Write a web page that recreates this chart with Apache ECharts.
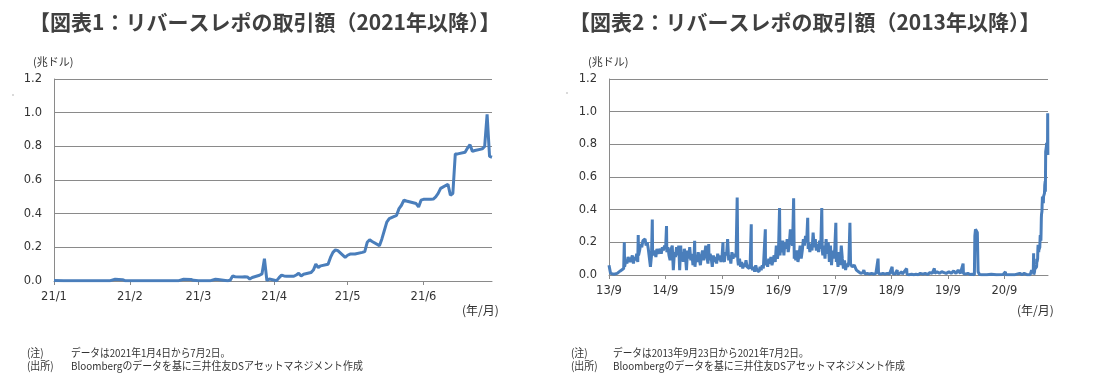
<!DOCTYPE html>
<html><head><meta charset="utf-8">
<script src="https://cdn.jsdelivr.net/npm/echarts@6/dist/echarts.min.js"></script>
<style>html,body{margin:0;padding:0;background:#fff;}#c{width:1099px;height:381px;}</style>
</head><body><div id="c"></div>
<script>
// ---- Chart 1 data: reverse repo volume 2021 (trillion USD) ----
const rrp2021 = [
 ['2021-01-04',0.003],['2021-01-08',0.002],['2021-01-15',0.002],['2021-01-22',0.001],['2021-01-27',0.002],
 ['2021-01-29',0.010],['2021-02-01',0.008],['2021-02-02',0.002],['2021-02-10',0.001],['2021-02-19',0.001],
 ['2021-02-24',0.002],['2021-02-26',0.010],['2021-03-01',0.009],['2021-03-02',0.004],['2021-03-04',0.001],
 ['2021-03-09',0.002],['2021-03-11',0.010],['2021-03-12',0.009],['2021-03-15',0.003],['2021-03-16',0.001],
 ['2021-03-17',0.004],['2021-03-18',0.030],['2021-03-19',0.025],['2021-03-22',0.024],['2021-03-23',0.025],
 ['2021-03-24',0.024],['2021-03-25',0.012],['2021-03-26',0.021],['2021-03-29',0.034],['2021-03-30',0.042],
 ['2021-03-31',0.133],['2021-04-01',0.003],['2021-04-02',0.012],['2021-04-05',0.002],['2021-04-06',0.020],
 ['2021-04-07',0.035],['2021-04-08',0.030],['2021-04-09',0.028],['2021-04-12',0.028],['2021-04-13',0.036],
 ['2021-04-14',0.046],['2021-04-15',0.030],['2021-04-16',0.040],['2021-04-19',0.050],['2021-04-20',0.065],
 ['2021-04-21',0.100],['2021-04-22',0.080],['2021-04-23',0.090],['2021-04-26',0.100],['2021-04-27',0.140],
 ['2021-04-28',0.170],['2021-04-29',0.185],['2021-04-30',0.180],['2021-05-03',0.140],['2021-05-04',0.153],
 ['2021-05-05',0.160],['2021-05-06',0.160],['2021-05-07',0.160],['2021-05-10',0.170],['2021-05-11',0.175],
 ['2021-05-12',0.230],['2021-05-13',0.245],['2021-05-14',0.235],['2021-05-17',0.210],['2021-05-18',0.250],
 ['2021-05-19',0.300],['2021-05-20',0.350],['2021-05-21',0.370],['2021-05-24',0.390],['2021-05-25',0.430],
 ['2021-05-26',0.450],['2021-05-27',0.480],['2021-05-28',0.475],['2021-06-01',0.460],['2021-06-02',0.440],
 ['2021-06-03',0.480],['2021-06-04',0.485],['2021-06-07',0.485],['2021-06-08',0.487],['2021-06-09',0.500],
 ['2021-06-10',0.520],['2021-06-11',0.550],['2021-06-14',0.575],['2021-06-15',0.510],['2021-06-16',0.520],
 ['2021-06-17',0.755],['2021-06-18',0.755],['2021-06-21',0.765],['2021-06-22',0.790],['2021-06-23',0.810],
 ['2021-06-24',0.770],['2021-06-25',0.775],['2021-06-28',0.785],['2021-06-29',0.800],['2021-06-30',0.990],
 ['2021-07-01',0.740],['2021-07-02',0.735]
];
const tickDates1 = ['2021-01-04','2021-02-04','2021-03-04','2021-04-04','2021-05-04','2021-06-04'];
const tickLabels1 = ['21/1','21/2','21/3','21/4','21/5','21/6'];

// ---- Chart 2 data: reverse repo volume since 2013 (trillion USD) ----
const rrp2013 = [
 ['2013-09-23',0.060],['2013-09-26',0.050],['2013-09-30',0.065],['2013-10-03',0.010],['2013-10-15',0.020],
 ['2013-10-25',0.005],['2013-11-05',0.015],['2013-11-15',0.010],['2013-11-26',0.020],['2013-12-05',0.025],
 ['2013-12-16',0.030],['2013-12-27',0.040],['2013-12-31',0.200]
];
const rrp2014 = [
 ['2014-01-02',0.05],['2014-01-10',0.09],['2014-01-17',0.07],['2014-01-24',0.11],['2014-01-31',0.12],
 ['2014-02-07',0.08],['2014-02-14',0.10],['2014-02-21',0.12],['2014-02-28',0.07],['2014-03-07',0.11],
 ['2014-03-14',0.09],['2014-03-21',0.13],['2014-03-28',0.08],['2014-03-31',0.245],['2014-04-02',0.12],
 ['2014-04-09',0.15],['2014-04-16',0.19],['2014-04-23',0.17],['2014-04-30',0.21],['2014-05-07',0.20],
 ['2014-05-14',0.22],['2014-05-21',0.18],['2014-05-28',0.20],['2014-06-04',0.16],['2014-06-11',0.15],
 ['2014-06-18',0.05],['2014-06-25',0.12],['2014-06-30',0.34],['2014-07-02',0.14],['2014-07-09',0.12],
 ['2014-07-16',0.15],['2014-07-23',0.11],['2014-07-30',0.16],['2014-08-06',0.13],['2014-08-13',0.14],
 ['2014-08-20',0.16],['2014-08-27',0.13],['2014-09-03',0.17],['2014-09-10',0.15],['2014-09-17',0.18],
 ['2014-09-24',0.16],['2014-09-30',0.30],['2014-10-02',0.14],['2014-10-09',0.17],['2014-10-16',0.12],
 ['2014-10-23',0.09],['2014-10-30',0.16],['2014-11-06',0.18],['2014-11-13',0.03],['2014-11-20',0.14],
 ['2014-11-27',0.11],['2014-12-04',0.17],['2014-12-11',0.12],['2014-12-18',0.18],['2014-12-24',0.03],
 ['2014-12-31',0.18]
];
const rrp2015 = [
 ['2015-01-02',0.10],['2015-01-09',0.14],['2015-01-16',0.08],['2015-01-23',0.16],['2015-01-30',0.12],
 ['2015-02-06',0.03],['2015-02-13',0.15],['2015-02-20',0.10],['2015-02-27',0.17],['2015-03-06',0.09],
 ['2015-03-13',0.13],['2015-03-20',0.06],['2015-03-27',0.11],['2015-03-31',0.21],['2015-04-02',0.05],
 ['2015-04-09',0.12],['2015-04-16',0.08],['2015-04-23',0.14],['2015-04-30',0.10],['2015-05-07',0.06],
 ['2015-05-14',0.12],['2015-05-21',0.15],['2015-05-28',0.09],['2015-06-04',0.13],['2015-06-11',0.18],
 ['2015-06-18',0.11],['2015-06-25',0.07],['2015-06-30',0.19],['2015-07-02',0.09],['2015-07-09',0.13],
 ['2015-07-16',0.10],['2015-07-23',0.05],['2015-07-30',0.12],['2015-08-06',0.08],['2015-08-13',0.11],
 ['2015-08-20',0.07],['2015-08-27',0.13],['2015-09-03',0.09],['2015-09-10',0.12],['2015-09-17',0.08],
 ['2015-09-24',0.11],['2015-09-30',0.20],['2015-10-02',0.10],['2015-10-09',0.08],['2015-10-16',0.14],
 ['2015-10-23',0.12],['2015-10-30',0.22],['2015-11-06',0.09],['2015-11-13',0.12],['2015-11-20',0.07],
 ['2015-11-27',0.14],['2015-12-04',0.10],['2015-12-11',0.13],['2015-12-18',0.11],['2015-12-24',0.13],
 ['2015-12-31',0.475]
];
const rrp2016 = [
 ['2016-01-04',0.09],['2016-01-08',0.06],['2016-01-15',0.10],['2016-01-22',0.05],['2016-01-29',0.08],
 ['2016-02-05',0.04],['2016-02-12',0.07],['2016-02-19',0.05],['2016-02-26',0.09],['2016-03-04',0.05],
 ['2016-03-11',0.06],['2016-03-18',0.04],['2016-03-24',0.07],['2016-03-31',0.31],['2016-04-01',0.06],
 ['2016-04-08',0.03],['2016-04-15',0.05],['2016-04-22',0.02],['2016-04-29',0.06],['2016-05-06',0.03],
 ['2016-05-13',0.04],['2016-05-20',0.02],['2016-05-27',0.05],['2016-06-03',0.03],['2016-06-10',0.06],
 ['2016-06-17',0.04],['2016-06-24',0.05],['2016-06-30',0.28],['2016-07-01',0.06],['2016-07-08',0.09],
 ['2016-07-15',0.05],['2016-07-22',0.10],['2016-07-29',0.07],['2016-08-05',0.11],['2016-08-12',0.06],
 ['2016-08-19',0.09],['2016-08-26',0.12],['2016-09-02',0.08],['2016-09-09',0.18],['2016-09-16',0.10],
 ['2016-09-23',0.14],['2016-09-30',0.41],['2016-10-03',0.12],['2016-10-07',0.18],['2016-10-14',0.14],
 ['2016-10-21',0.21],['2016-10-28',0.12],['2016-11-04',0.20],['2016-11-11',0.16],['2016-11-18',0.22],
 ['2016-11-25',0.14],['2016-12-02',0.19],['2016-12-09',0.28],['2016-12-16',0.21],['2016-12-23',0.18],
 ['2016-12-30',0.47]
];
const rrp2017 = [
 ['2017-01-03',0.10],['2017-01-06',0.14],['2017-01-13',0.09],['2017-01-20',0.15],['2017-01-27',0.08],
 ['2017-02-03',0.12],['2017-02-10',0.18],['2017-02-17',0.10],['2017-02-24',0.15],['2017-03-03',0.22],
 ['2017-03-10',0.18],['2017-03-17',0.24],['2017-03-24',0.20],['2017-03-31',0.35],['2017-04-03',0.16],
 ['2017-04-07',0.20],['2017-04-14',0.14],['2017-04-21',0.19],['2017-04-28',0.15],['2017-05-05',0.26],
 ['2017-05-12',0.17],['2017-05-19',0.22],['2017-05-26',0.15],['2017-06-02',0.19],['2017-06-09',0.14],
 ['2017-06-16',0.21],['2017-06-23',0.16],['2017-06-30',0.41],['2017-07-03',0.15],['2017-07-07',0.12],
 ['2017-07-14',0.18],['2017-07-21',0.10],['2017-07-28',0.22],['2017-08-04',0.13],['2017-08-11',0.20],
 ['2017-08-18',0.08],['2017-08-25',0.18],['2017-09-01',0.06],['2017-09-08',0.15],['2017-09-15',0.10],
 ['2017-09-22',0.16],['2017-09-29',0.32],['2017-10-02',0.08],['2017-10-06',0.12],['2017-10-13',0.05],
 ['2017-10-20',0.14],['2017-10-27',0.06],['2017-11-03',0.18],['2017-11-10',0.10],['2017-11-17',0.04],
 ['2017-11-24',0.09],['2017-12-01',0.03],['2017-12-08',0.07],['2017-12-15',0.05],['2017-12-22',0.08],
 ['2017-12-29',0.32]
];
const rrp2018 = [
 ['2018-01-02',0.07],['2018-01-12',0.05],['2018-01-26',0.06],['2018-02-09',0.03],['2018-02-23',0.02],
 ['2018-03-09',0.01],['2018-03-23',0.015],['2018-03-29',0.03],['2018-04-06',0.005],['2018-04-20',0.01],
 ['2018-05-04',0.005],['2018-05-18',0.01],['2018-06-01',0.005],['2018-06-15',0.01],['2018-06-29',0.10],
 ['2018-07-02',0.01],['2018-07-16',0.005],['2018-07-30',0.01],['2018-08-13',0.005],['2018-08-27',0.01],
 ['2018-09-10',0.005],['2018-09-28',0.05],['2018-10-01',0.01],['2018-10-15',0.005],['2018-10-31',0.03],
 ['2018-11-01',0.005],['2018-11-15',0.01],['2018-11-30',0.02],['2018-12-03',0.005],['2018-12-14',0.01],
 ['2018-12-31',0.04]
];
const rrp2019 = [
 ['2019-01-02',0.005],['2019-01-15',0.002],['2019-02-01',0.005],['2019-02-15',0.002],['2019-03-01',0.004],
 ['2019-03-15',0.002],['2019-03-29',0.01],['2019-04-01',0.002],['2019-04-15',0.005],['2019-04-30',0.01],
 ['2019-05-15',0.003],['2019-05-31',0.015],['2019-06-14',0.01],['2019-06-28',0.04],['2019-07-01',0.01],
 ['2019-07-15',0.02],['2019-07-31',0.01],['2019-08-15',0.02],['2019-08-30',0.015],['2019-09-13',0.01],
 ['2019-09-30',0.02],['2019-10-15',0.01],['2019-10-31',0.025],['2019-11-15',0.01],['2019-11-29',0.03],
 ['2019-12-13',0.01],['2019-12-31',0.07]
];
const rrp2020 = [
 ['2020-01-02',0.01],['2020-01-15',0.005],['2020-01-31',0.01],['2020-02-14',0.003],['2020-02-28',0.005],
 ['2020-03-13',0.002],['2020-03-16',0.24],['2020-03-20',0.28],['2020-03-27',0.29],['2020-04-01',0.26],
 ['2020-04-06',0.02],['2020-04-15',0.003],['2020-05-01',0.001],['2020-06-01',0.002],['2020-06-30',0.004],
 ['2020-08-03',0.001],['2020-09-15',0.003],['2020-09-30',0.02],['2020-10-01',0.002],['2020-11-02',0.001],
 ['2020-12-01',0.002],['2020-12-31',0.01]
];
const tickDates2 = ['2013-09-23','2014-09-23','2015-09-23','2016-09-23','2017-09-23','2018-09-23','2019-09-23','2020-09-23'];
const tickLabels2 = ['13/9','14/9','15/9','16/9','17/9','18/9','19/9','20/9'];
const yTicks = [0, 0.2, 0.4, 0.6, 0.8, 1.0, 1.2];

// ---- texts ----
const title1 = '【図表1：リバースレポの取引額（2021年以降）】';
const title2 = '【図表2：リバースレポの取引額（2013年以降）】';
const unitY = '(兆ドル)';
const unitX = '(年/月)';
const note1 = 'データは2021年1月4日から7月2日。';
const note2 = 'データは2013年9月23日から2021年7月2日。';
const srcText = 'Bloombergのデータを基に三井住友DSアセットマネジメント作成';

function ts(s){ const p = s.split('-').map(Number); return Date.UTC(p[0], p[1]-1, p[2]); }
const toPts = arr => arr.map(d => [ts(d[0]), d[1]]);
const series1 = toPts(rrp2021);
const series2 = toPts([].concat(rrp2013, rrp2014, rrp2015, rrp2016, rrp2017, rrp2018, rrp2019, rrp2020, rrp2021));

const tv1 = tickDates1.map(ts), tv2 = tickDates2.map(ts);
const AX = '#8a8a8a', LBL = '#333333', LINE = '#4a7ebb';
const cjk = '"Noto Sans CJK JP", sans-serif';

function xAxisDef(gi, minD, maxD, tv, labels){
  return {
    type: 'value', gridIndex: gi, min: ts(minD), max: ts(maxD), scale: true,
    axisLine: {show: true, lineStyle: {color: AX, width: 1}},
    axisTick: {show: true, customValues: tv, length: 4, lineStyle: {color: AX}},
    axisLabel: {customValues: tv, hideOverlap: false, showMinLabel: true, showMaxLabel: true,
      margin: 10, color: LBL, fontSize: 11.5,
      fontFamily: '"DejaVu Sans", sans-serif',
      formatter: v => { let best = 0, bd = Infinity; tv.forEach((t,i) => { const d = Math.abs(t - v); if (d < bd) { bd = d; best = i; } }); return labels[best]; }},
    splitLine: {show: false}
  };
}
function yAxisDef(gi){
  return {
    type: 'value', gridIndex: gi, min: yTicks[0], max: yTicks[yTicks.length-1], interval: 0.2,
    axisLine: {show: true, lineStyle: {color: AX, width: 1}},
    axisTick: {show: false},
    axisLabel: {margin: 12, color: LBL, fontSize: 11.5, fontFamily: '"DejaVu Sans", sans-serif',
      formatter: v => v.toFixed(1)},
    splitLine: {show: true, lineStyle: {color: AX, width: 1}}
  };
}
function txt(x, y, text, size, sx){
  return {type: 'text', x: x, y: y, silent: true, scaleX: sx || 1,
    style: {text: text, fill: '#333333', font: size + 'px ' + cjk, textVerticalAlign: 'middle'}};
}

const chart = echarts.init(document.getElementById('c'), null, {renderer: 'canvas'});
chart.setOption({
  animation: false,
  backgroundColor: '#ffffff',
  grid: [
    {left: 54, right: 607, top: 79, bottom: 100, containLabel: false},
    {left: 609, right: 51, top: 79, bottom: 106, containLabel: false}
  ],
  xAxis: [xAxisDef(0, '2021-01-04', '2021-07-02', tv1, tickLabels1),
          xAxisDef(1, '2013-09-23', '2021-07-02', tv2, tickLabels2)],
  yAxis: [yAxisDef(0), yAxisDef(1)],
  series: [
    {type: 'line', xAxisIndex: 0, yAxisIndex: 0, data: series1, showSymbol: false, symbol: 'none',
     lineStyle: {color: LINE, width: 3}, z: 5},
    {type: 'line', xAxisIndex: 1, yAxisIndex: 1, data: series2, showSymbol: false, symbol: 'none',
     lineStyle: {color: LINE, width: 3}, z: 5}
  ],
  graphic: [
    {type: 'text', x: 29, y: 22, silent: true, style: {text: title1, fill: '#404040', font: 'bold 21px ' + cjk, textVerticalAlign: 'middle'}},
    {type: 'text', x: 569, y: 22, silent: true, style: {text: title2, fill: '#404040', font: 'bold 21px ' + cjk, textVerticalAlign: 'middle'}},
    txt(33, 62, unitY, 11),
    txt(588, 62, unitY, 11),
    txt(462, 310, unitX, 12),
    txt(1017, 310, unitX, 12),
    txt(27, 353, '(注)', 11, 0.9),
    txt(71, 353, note1, 11, 0.88),
    txt(27, 366, '(出所)', 11, 0.9),
    txt(71, 366, srcText, 11, 0.9),
    txt(571, 353, '(注)', 11, 0.9),
    txt(613, 353, note2, 11, 0.88),
    txt(571, 366, '(出所)', 11, 0.9),
    txt(613, 366, srcText, 11, 0.9),
    {type: 'circle', silent: true, shape: {cx: 13, cy: 95, r: 0.7}, style: {fill: '#999'}},
    {type: 'circle', silent: true, shape: {cx: 567, cy: 93, r: 0.7}, style: {fill: '#999'}}
  ]
});
</script></body></html>
